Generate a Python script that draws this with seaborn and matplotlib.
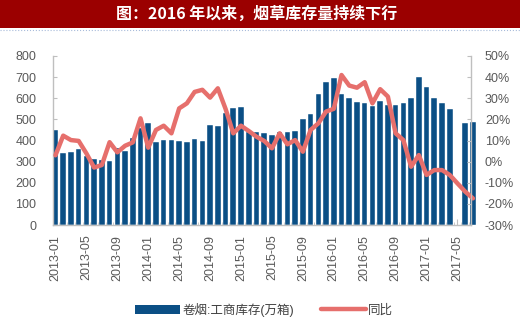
import numpy as np
import pandas as pd
import matplotlib
matplotlib.use("Agg")
import matplotlib.pyplot as plt
import seaborn as sns
from matplotlib.patches import Rectangle, Patch
from matplotlib.lines import Line2D
from matplotlib.ticker import FixedLocator, FuncFormatter

# ---------------- data ----------------
months = [f"{y}-{m:02d}" for y in range(2013, 2018) for m in range(1, 13)][:55]

inventory = [
    450, 340, 345, 358, 325, 311, 308, 302, 365, 352, 413, 460,   # 2013
    481, 391, 402, 402, 398, 391, 407, 397, 474, 467, 528, 552,   # 2014
    557, 440, 438, 434, 425, 438, 438, 445, 500, 526, 618, 678,   # 2015
    697, 618, 599, 584, 576, 565, 587, 568, 568, 576, 599, 702,   # 2016
    655, 599, 576, 549, np.nan, 481, 489,                         # 2017
]

yoy = [
    3.0, 12.3, 10.2, 9.8, 3.9, -2.8, -1.6, 9.2, 4.4, 7.5, 9.1, 20.5,
    6.6, 15.0, 17.0, 13.4, 25.2, 27.6, 33.0, 34.0, 30.3, 34.7, 25.0, 13.4,
    17.0, 14.5, 11.8, 9.8, 6.3, 13.4, 8.2, 10.2, 4.7, 15.0, 18.1, 23.7,
    25.0, 41.0, 36.0, 35.0, 37.6, 27.6, 34.3, 30.8, 13.4, 10.2, -2.4, 3.1,
    -6.3, -4.0, -4.0, -6.3, -10.3, -14.2, -17.4,
]

left_ticks = [0, 100, 200, 300, 400, 500, 600, 700, 800]
right_ticks = [-30, -20, -10, 0, 10, 20, 30, 40, 50]
title = "图：2016 年以来，烟草库存量持续下行"
bar_label = "卷烟:工商库存(万箱)"
line_label = "同比"

BLUE = "#0B4F85"
RED = "#E66F6C"
GRAY = "#BFBFBF"
TXT = "#595959"

# ---------------- style ----------------
sns.set_theme(style="white")
plt.rcParams["font.family"] = ["Liberation Sans", "Noto Sans CJK SC", "DejaVu Sans"]

W, H = 520, 325
fig = plt.figure(figsize=(W / 100, H / 100), dpi=100)
fig.patch.set_facecolor("white")

# title bar
fig.patches.append(Rectangle((0, 1 - 28 / H), 1, 28 / H, transform=fig.transFigure,
                             facecolor="#9B0000", edgecolor="none", zorder=0))
fig.add_artist(Line2D([0, 1], [1 - 30 / H] * 2, transform=fig.transFigure,
                      color="#A9BCDB", lw=0.8, ls=":"))
fig.text(0.493, 1 - 13.5 / H, title, color="white", fontsize=11.5,
         ha="center", va="center", family=["Noto Sans CJK SC", "DejaVu Sans"],
         fontweight="bold")

ax_l, ax_r, ax_t, ax_b = 53, 471, 56, 225
ax = fig.add_axes([ax_l / W, 1 - ax_b / H, (ax_r - ax_l) / W, (ax_b - ax_t) / H])

idx = list(range(len(months)))
df = pd.DataFrame({"idx": idx, "inv": inventory, "yoy": yoy})

sns.barplot(data=df, x="idx", y="inv", order=idx, color=BLUE, saturation=1,
            width=0.72, errorbar=None, ax=ax, edgecolor="white", linewidth=0.3)
for p in ax.patches:
    p.set_clip_on(False)

ax.set_xlim(-0.32, 53.75)
ax.set_ylim(0, 800)
ax.set_xlabel("")
ax.set_ylabel("")
ax.yaxis.set_major_locator(FixedLocator(left_ticks))
ax.set_yticklabels([str(v) for v in left_ticks])
ax.xaxis.set_major_locator(FixedLocator(idx[::4]))
ax.set_xticklabels(months[::4], rotation=90)
ax.xaxis.set_minor_locator(FixedLocator([i + 0.5 for i in idx[:-1]]))

ax.tick_params(axis="y", direction="in", length=3, width=0.8, color=GRAY,
               pad=12, labelsize=9, labelcolor=TXT)
ax.tick_params(axis="x", which="major", direction="in", length=4, width=0.8,
               color=GRAY, pad=7, labelsize=9, labelcolor=TXT, bottom=True)
ax.tick_params(axis="x", which="minor", direction="in", length=2, width=0.6,
               color=GRAY, bottom=True)
for s in ["top", "right"]:
    ax.spines[s].set_visible(False)
for s in ["left", "bottom"]:
    ax.spines[s].set_color(GRAY)
    ax.spines[s].set_linewidth(1.0)

# secondary axis
ax2 = ax.twinx()
sns.lineplot(data=df, x="idx", y="yoy", color=RED, linewidth=3.2, ax=ax2,
             legend=False)
for ln in ax2.lines:
    ln.set_solid_joinstyle("round")
    ln.set_solid_capstyle("round")
    ln.set_clip_on(False)
ax2.set_ylim(-30, 50)
ax2.set_xlim(-0.32, 53.75)
ax2.set_ylabel("")
ax2.yaxis.set_major_locator(FixedLocator(right_ticks))
ax2.yaxis.set_major_formatter(FuncFormatter(lambda v, p: f"{int(round(v))}%"))
ax2.tick_params(axis="y", direction="in", length=3, width=0.8, color=GRAY,
                pad=10, labelsize=9, labelcolor=TXT)
for s in ["top", "left", "bottom"]:
    ax2.spines[s].set_visible(False)
ax2.spines["right"].set_color(GRAY)
ax2.spines["right"].set_linewidth(1.0)
ax2.grid(False)
ax.grid(False)

# legend
handles = [Patch(facecolor=BLUE, edgecolor="none", label=bar_label),
           Line2D([0], [0], color=RED, lw=3.2, label=line_label)]
fig.legend(handles=handles, loc="center", bbox_to_anchor=(0.508, 1 - 310 / H),
           ncol=2, frameon=False, fontsize=9, handlelength=3.6, handleheight=0.8,
           columnspacing=2.2, handletextpad=0.15, labelcolor="#404040")

fig.savefig("out.png", dpi=100, facecolor="white")
